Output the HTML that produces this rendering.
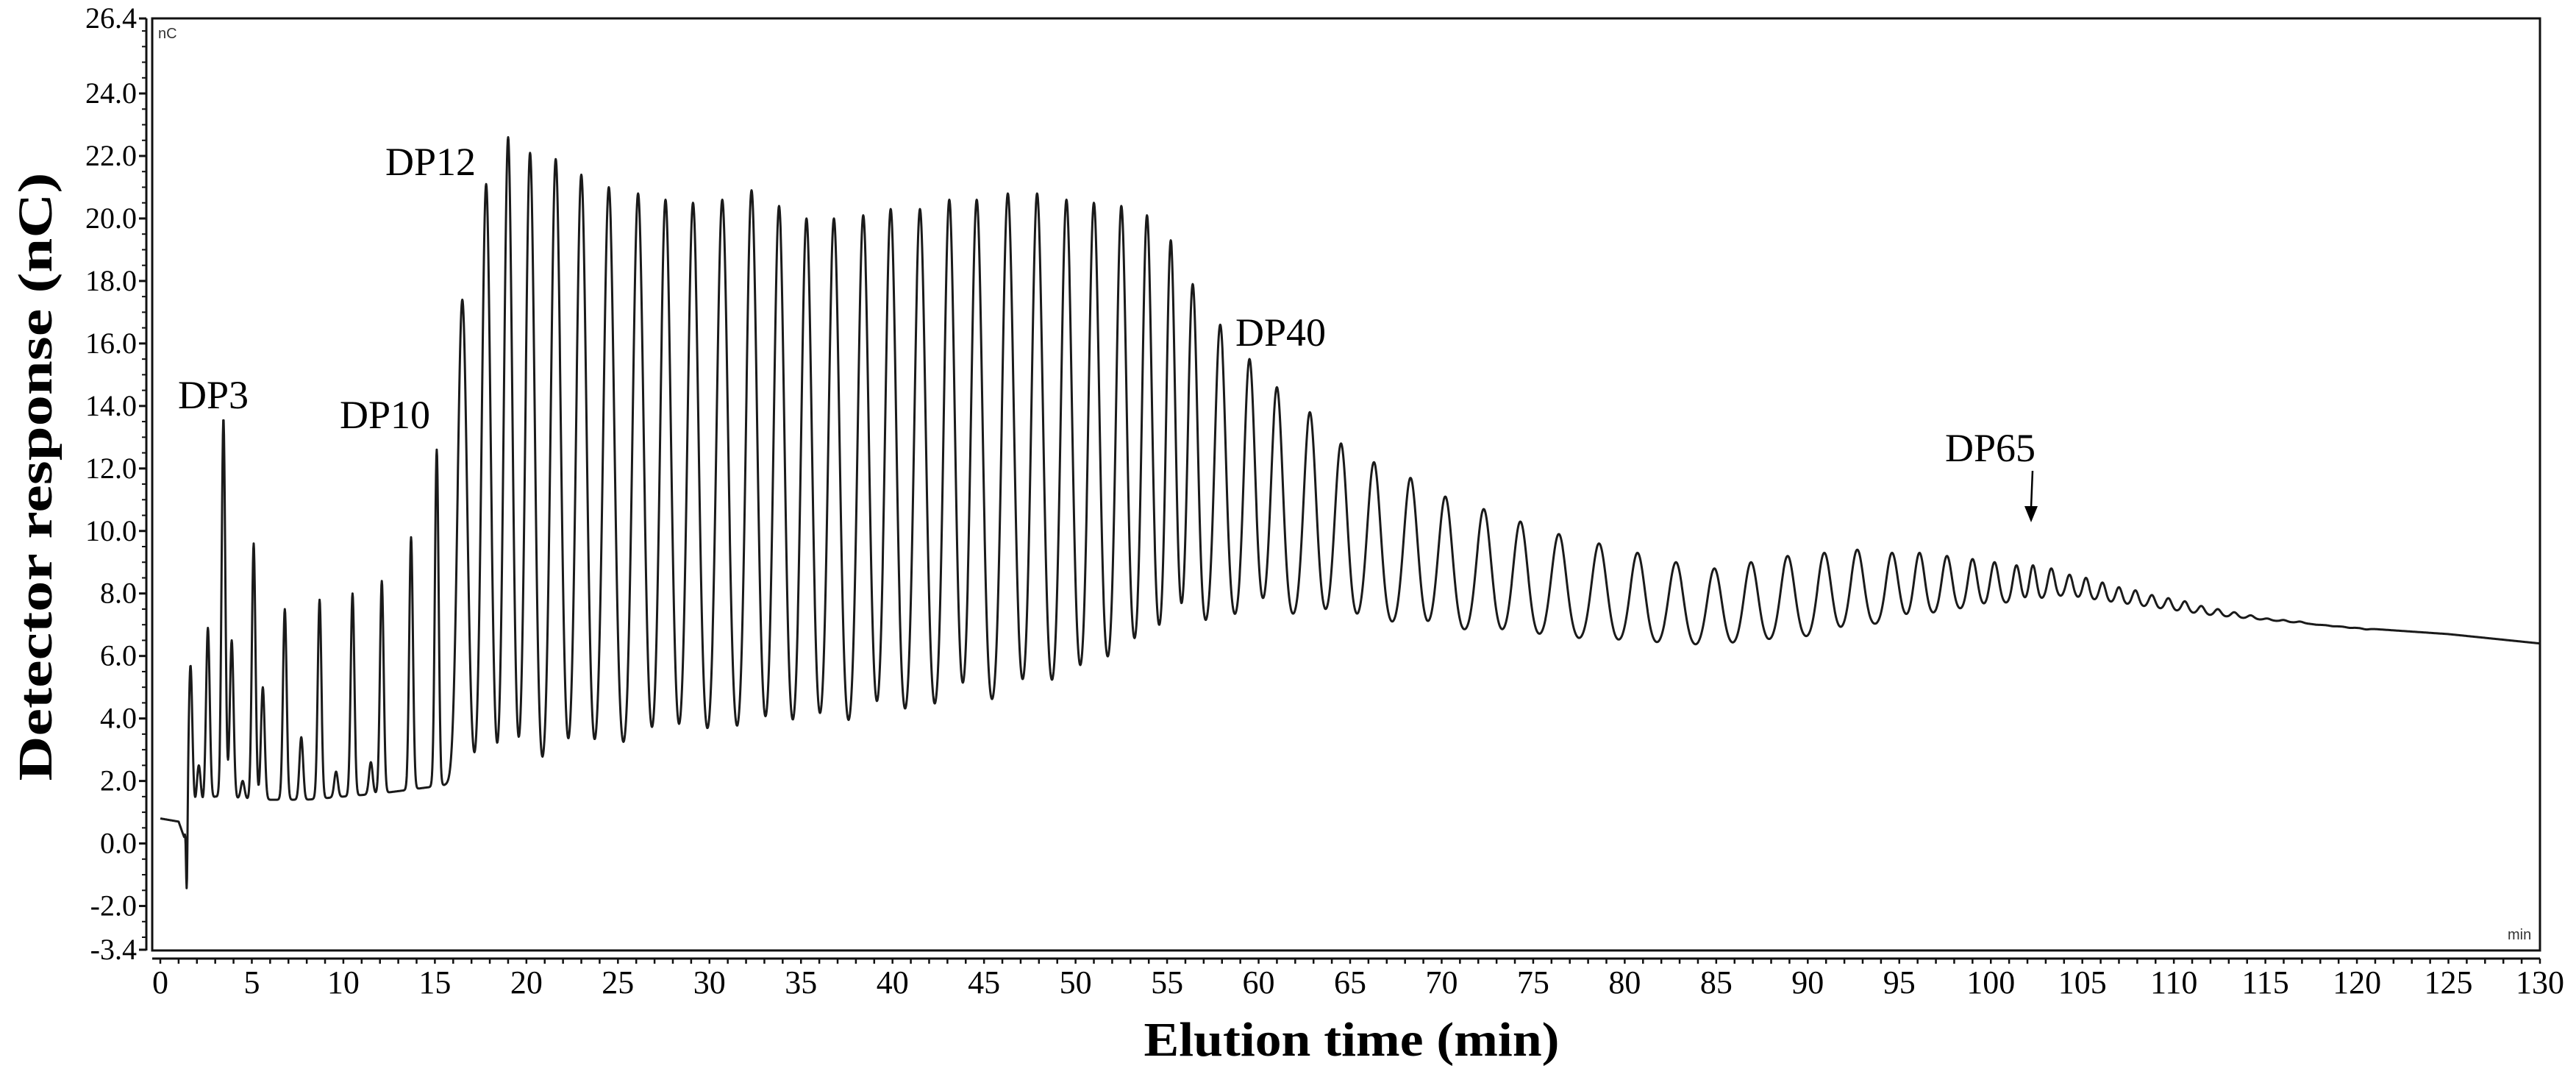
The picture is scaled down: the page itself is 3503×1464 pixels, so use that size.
<!DOCTYPE html>
<html><head><meta charset="utf-8"><style>
html,body{margin:0;padding:0;background:#fff;}
svg{display:block;}
</style></head><body>
<svg id="chart" width="3503" height="1464" viewBox="0 0 3503 1464" xmlns="http://www.w3.org/2000/svg">
<g id="axes"></g>
<g id="trace"></g>
<text x="0" y="0" transform="translate(70,648) rotate(-90)" text-anchor="middle" font-family="Liberation Serif, serif" font-weight="bold" font-size="66" textLength="827" lengthAdjust="spacingAndGlyphs" fill="#000">Detector response (nC)</text>
<text x="1838" y="1435" text-anchor="middle" font-family="Liberation Serif, serif" font-weight="bold" font-size="66" textLength="565" lengthAdjust="spacingAndGlyphs" fill="#000">Elution time (min)</text>
<text x="215" y="52" font-family="Liberation Sans, sans-serif" font-size="20" fill="#333">nC</text>
<text x="3410" y="1277" font-family="Liberation Sans, sans-serif" font-size="20" fill="#333">min</text>
<text x="242" y="555" font-family="Liberation Serif, serif" font-size="54" fill="#000">DP3</text>
<text x="462" y="582" font-family="Liberation Serif, serif" font-size="54" fill="#000">DP10</text>
<text x="524" y="238" font-family="Liberation Serif, serif" font-size="54" fill="#000">DP12</text>
<text x="1680" y="470" font-family="Liberation Serif, serif" font-size="54" fill="#000">DP40</text>
<text x="2645" y="627" font-family="Liberation Serif, serif" font-size="54" fill="#000">DP65</text>
<line x1="2764" y1="640" x2="2762" y2="690" stroke="#000" stroke-width="2.5"/>
<polygon points="2753,688 2771,688 2762,710" fill="#000"/>
</svg>
<script>
const baseTimes = [0,1,1.3,1.6,3,5,8,12,16,20,25,30,35,40,45,50,55,60,65,70,75,80,85,90,95,100,104,108,112,116,120,125,130];
const baseValues = [0.8,0.7,0.2,1.0,1.5,1.4,1.4,1.6,1.9,1.7,2.3,2.7,2.9,3.3,3.8,4.5,6.3,7.1,7.0,6.7,6.5,6.3,6.2,6.5,7.1,7.6,7.9,7.6,7.3,7.1,6.9,6.7,6.4];
const peakTimes = [1.45,1.65,2.1,2.6,3.45,3.9,4.5,5.1,5.6,6.8,7.7,8.7,9.6,10.5,11.5,12.1,13.7,15.1,16.5,17.8,19.0,20.2,21.6,23.0,24.5,26.1,27.6,29.1,30.7,32.3,33.8,35.3,36.8,38.4,39.9,41.5,43.1,44.6,46.3,47.9,49.5,51.0,52.5,53.9,55.2,56.4,57.9,59.5,61.0,62.8,64.5,66.3,68.3,70.2,72.3,74.3,76.4,78.6,80.7,82.8,84.9,86.9,88.9,90.9,92.7,94.6,96.1,97.6,99.0,100.2,101.4,102.3,103.3,104.3,105.2,106.1,107.0,107.9,108.8,109.7,110.6,111.5,112.4,113.3,114.2,115.1,116.0,116.9,117.8,118.7,119.6,120.5];
const peakHeights = [-2.0,5.7,2.5,6.9,13.6,6.5,2.0,9.6,5.0,7.5,3.4,7.8,2.3,8.0,2.6,8.4,9.8,12.6,17.4,21.1,22.6,22.1,21.9,21.4,21.0,20.8,20.6,20.5,20.6,20.9,20.4,20.0,20.0,20.1,20.3,20.3,20.6,20.6,20.8,20.8,20.6,20.5,20.4,20.1,19.3,17.9,16.6,15.5,14.6,13.8,12.8,12.2,11.7,11.1,10.7,10.3,9.9,9.6,9.3,9.0,8.8,9.0,9.2,9.3,9.4,9.3,9.3,9.2,9.1,9.0,8.9,8.9,8.8,8.6,8.5,8.35,8.2,8.1,7.95,7.85,7.75,7.6,7.5,7.4,7.3,7.2,7.15,7.1,7.0,6.95,6.9,6.85];
const yTickValues = [-3.4,-2,0,2,4,6,8,10,12,14,16,18,20,22,24,26.4];
const yTickLabels = ["-3.4","-2.0","0.0","2.0","4.0","6.0","8.0","10.0","12.0","14.0","16.0","18.0","20.0","22.0","24.0","26.4"];
const xTickValues = [0,5,10,15,20,25,30,35,40,45,50,55,60,65,70,75,80,85,90,95,100,105,110,115,120,125,130];

const NS = "http://www.w3.org/2000/svg";
const X0 = 218, X1 = 3454, YB = 1291, PXU = 42.48;
function xs(t){ return X0 + t*(X1-X0)/130; }
function ys(v){ return YB - (v+3.4)*PXU; }
function baseline(t){
  for(let i=0;i<baseTimes.length-1;i++){
    if(t<=baseTimes[i+1]){ const f=(t-baseTimes[i])/(baseTimes[i+1]-baseTimes[i]); return baseValues[i]+f*(baseValues[i+1]-baseValues[i]); }
  }
  return baseValues[baseValues.length-1];
}
function mk(tag, attrs, parent){ const e=document.createElementNS(NS,tag); for(const k in attrs) e.setAttribute(k,attrs[k]); parent.appendChild(e); return e; }

const axes = document.getElementById('axes');
const box = mk('rect',{x:207,y:25,width:3247,height:1267,fill:'none',stroke:'#111','stroke-width':3},axes);


const yAxis = mk('line',{x1:199,y1:25,x2:199,y2:1292,stroke:'#111','stroke-width':3},axes);


const xAxis = mk('line',{x1:207,y1:1303,x2:3454,y2:1303,stroke:'#111','stroke-width':3},axes);



for(let v=-3; v<=26; v+=0.5){
  const mt = mk('line',{x1:193,y1:ys(v),x2:199,y2:ys(v),stroke:'#111','stroke-width':2},axes);
  
  
}
yTickValues.forEach((v,i)=>{
  const tk = mk('line',{x1:189,y1:ys(v),x2:199,y2:ys(v),stroke:'#111','stroke-width':3},axes);
  
  
  const lb = mk('text',{x:186,y:ys(v)+13,'text-anchor':'end','font-family':'Liberation Serif, serif','font-size':40,fill:'#000'},axes);
  
  
  lb.textContent = yTickLabels[i];
});
for(let t=0;t<=130;t++){
  const mt = mk('line',{x1:xs(t),y1:1303,x2:xs(t),y2:1310,stroke:'#111','stroke-width':2.5},axes);
  
  
}
xTickValues.forEach(t=>{
  const lb = mk('text',{x:xs(t),y:1350,'text-anchor':'middle','font-family':'Liberation Serif, serif','font-size':44,fill:'#000'},axes);
  
  
  lb.textContent = String(t);
});

const n = peakTimes.length;
const sig = peakTimes.map((t,i)=>{
  if(i===0) return 0.04;
  if(t<16) return 0.1;
  const prev = peakTimes[i]-peakTimes[i-1];
  const next = i<n-1 ? peakTimes[i+1]-peakTimes[i] : prev;
  return 0.19*(prev+next)/2;
});
const amp = peakTimes.map((t,i)=> peakHeights[i]-baseline(t));
let d = "";
for(let t=0; t<=130.001; t+=0.02){
  let v = baseline(t);
  for(let i=0;i<n;i++){ const dt=t-peakTimes[i]; if(Math.abs(dt)<6*sig[i]) v += amp[i]*Math.exp(-dt*dt/(2*sig[i]*sig[i])); }
  d += (d?"L":"M") + xs(t).toFixed(1) + "," + ys(v).toFixed(1);
}
const path = mk('path',{d:d,fill:'none',stroke:'#1a1a1a','stroke-width':3,'stroke-linejoin':'round'},document.getElementById('trace'));


</script>
</body></html>
